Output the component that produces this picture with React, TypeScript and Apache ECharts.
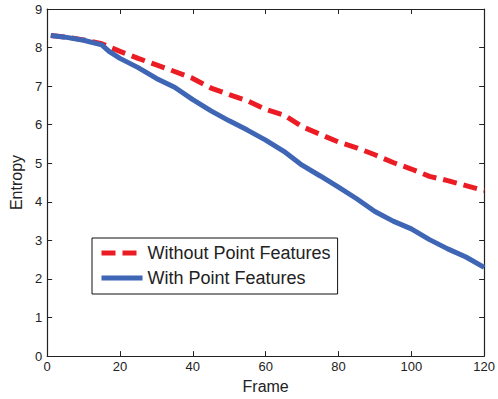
import React, { useEffect, useRef } from "react";
import * as echarts from "echarts";

// Frames at which entropy was sampled
const frames = [1, 5, 10, 15, 17, 20, 25, 30, 35, 40, 45, 50, 55, 60, 65, 70, 75, 80, 85, 90, 95, 100, 105, 110, 115, 120];

// Entropy without point features
const withoutPoint = [8.31, 8.27, 8.2, 8.1, 8.02, 7.9, 7.72, 7.55, 7.38, 7.2, 6.95, 6.78, 6.62, 6.4, 6.25, 5.95, 5.75, 5.55, 5.4, 5.22, 5.02, 4.85, 4.66, 4.55, 4.42, 4.29];

// Entropy with point features
const withPoint = [8.31, 8.27, 8.19, 8.07, 7.9, 7.72, 7.48, 7.2, 6.97, 6.65, 6.36, 6.1, 5.86, 5.6, 5.31, 4.95, 4.67, 4.38, 4.08, 3.75, 3.5, 3.3, 3.02, 2.78, 2.57, 2.3];

const seriesNames = ["Without Point Features", "With Point Features"];

const FONT = "'Liberation Sans', Arial, Helvetica, sans-serif";
const AXIS_COLOR = "#222";
const RED = "#EC1C24";
const BLUE = "#3F65B5";

export default function App() {
  const ref = useRef<HTMLDivElement>(null);

  useEffect(() => {
    if (!ref.current) return;
    const chart = echarts.init(ref.current, undefined, { renderer: "svg" });

    const boxAxis = {
      axisLine: { show: true, onZero: false, lineStyle: { color: AXIS_COLOR, width: 1.2 } },
      axisTick: { show: true, inside: true, length: 5, lineStyle: { color: AXIS_COLOR } },
      splitLine: { show: false },
    };

    chart.setOption({
      animation: false,
      backgroundColor: "#fff",
      textStyle: { fontFamily: FONT },
      grid: { left: 46, right: 10, top: 9, bottom: 41 },
      legend: {
        orient: "vertical",
        left: 92,
        top: 238,
        data: seriesNames,
        backgroundColor: "#fff",
        borderColor: "#111",
        borderWidth: 1,
        borderRadius: 0,
        padding: [6, 7, 7, 7],
        itemWidth: 41,
        itemHeight: 16,
        itemGap: 7,
        itemStyle: { color: "transparent", borderWidth: 0, opacity: 0 },
        lineStyle: { width: 5, cap: "butt" },
        textStyle: { fontFamily: FONT, fontSize: 18, lineHeight: 16, color: "#222", padding: [0, 0, 0, 0] },
      },
      xAxis: [
        {
          type: "value",
          min: 0,
          max: 120,
          interval: 20,
          position: "bottom",
          name: "Frame",
          nameLocation: "middle",
          nameGap: 20,
          nameTextStyle: { fontFamily: FONT, fontSize: 16, color: "#222" },
          axisLabel: { fontFamily: FONT, fontSize: 13, color: "#222", margin: 4 },
          ...boxAxis,
        },
        {
          type: "value",
          min: 0,
          max: 120,
          interval: 20,
          position: "top",
          axisLabel: { show: false },
          ...boxAxis,
        },
      ],
      yAxis: [
        {
          type: "value",
          min: 0,
          max: 9,
          interval: 1,
          position: "left",
          name: "Entropy",
          nameLocation: "middle",
          nameGap: 21,
          nameTextStyle: { fontFamily: FONT, fontSize: 16, color: "#222" },
          axisLabel: { fontFamily: FONT, fontSize: 13, color: "#222", margin: 5 },
          ...boxAxis,
        },
        {
          type: "value",
          min: 0,
          max: 9,
          interval: 1,
          position: "right",
          axisLabel: { show: false },
          ...boxAxis,
        },
      ],
      series: [
        {
          name: seriesNames[0],
          type: "line",
          data: frames.map((f, i) => [f, withoutPoint[i]]),
          showSymbol: false,
          symbol: "none",
          z: 2,
          itemStyle: { color: RED },
          lineStyle: { color: RED, width: 5, type: [14, 7], cap: "butt" },
        },
        {
          name: seriesNames[1],
          type: "line",
          data: frames.map((f, i) => [f, withPoint[i]]),
          showSymbol: false,
          symbol: "none",
          z: 3,
          itemStyle: { color: BLUE },
          lineStyle: { color: BLUE, width: 5, type: "solid", cap: "butt" },
        },
      ],
    });

    return () => chart.dispose();
  }, []);

  return <div ref={ref} style={{ width: 498, height: 399, position: "absolute", left: 0, top: 0 }} />;
}
